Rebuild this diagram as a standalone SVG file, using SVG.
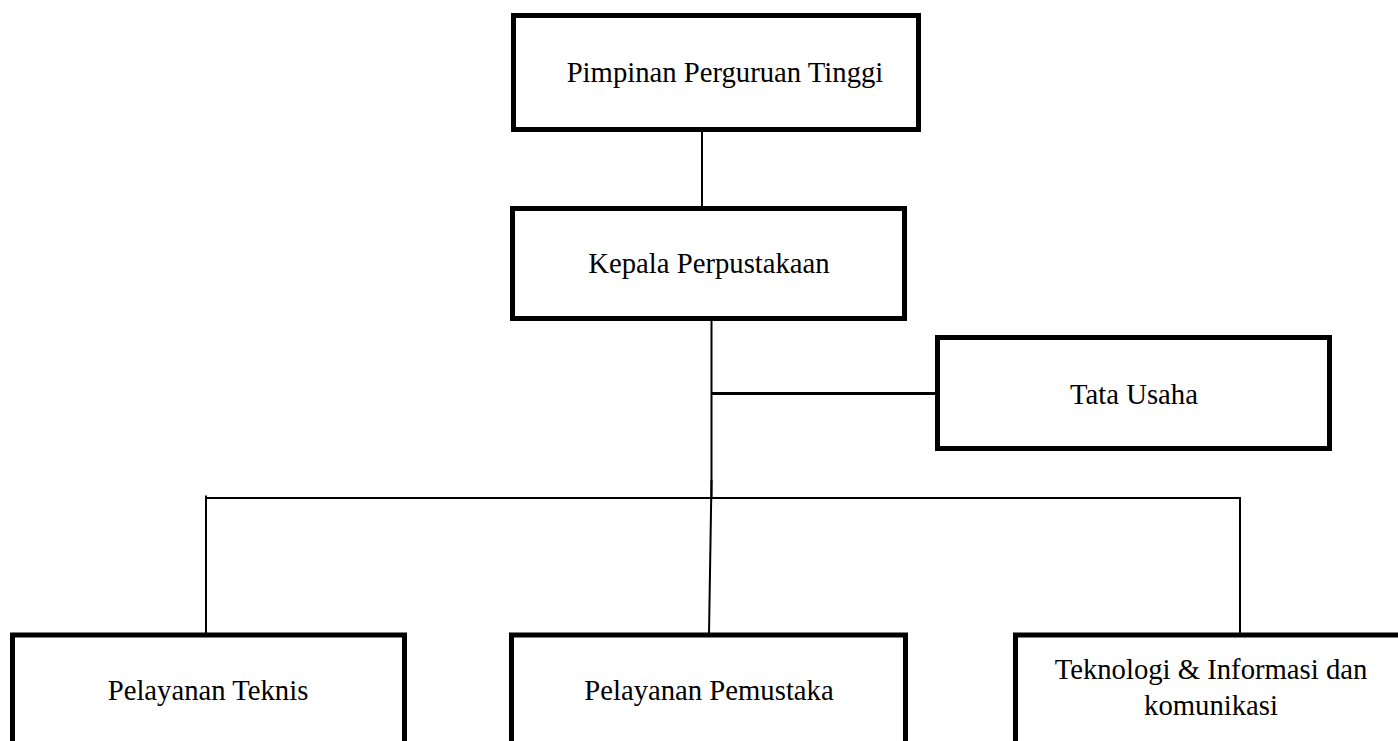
<svg xmlns="http://www.w3.org/2000/svg" width="1398" height="741" viewBox="0 0 1398 741">
<style>
.box{fill:#fff;stroke:#000;stroke-width:5}
.lbl{font-family:"Liberation Serif","Times New Roman",serif;font-size:28.7px;fill:#000;text-anchor:middle}
.con{fill:none;stroke:#000;stroke-width:2}
</style>
<rect width="1398" height="741" fill="#fff"/>
<g id="connectors">
<line class="con" x1="702" y1="132" x2="702" y2="213"/>
<line class="con" x1="711.5" y1="320" x2="711.5" y2="498"/>
<line class="con" x1="711.5" y1="393.5" x2="937" y2="393.5" style="stroke-width:3"/>
<line class="con" x1="205" y1="498" x2="1240" y2="498"/>
<line class="con" x1="206" y1="495.5" x2="206" y2="634"/>
<line class="con" x1="1240" y1="497" x2="1240" y2="634"/>
<line class="con" x1="711.5" y1="480" x2="709" y2="634"/>
</g>
<g id="pimpinan">
<rect class="box" x="513.5" y="15.5" width="405" height="114"/>
<text class="lbl" x="725" y="82">Pimpinan Perguruan Tinggi</text>
</g>
<g id="kepala">
<rect class="box" x="512.5" y="208.5" width="392" height="110"/>
<text class="lbl" x="709" y="273">Kepala Perpustakaan</text>
</g>
<g id="tata-usaha">
<rect class="box" x="937.5" y="337.5" width="392" height="111"/>
<text class="lbl" x="1134" y="404">Tata Usaha</text>
</g>
<g id="pelayanan-teknis">
<rect class="box" x="12.5" y="635" width="392" height="140"/>
<text class="lbl" x="208" y="700">Pelayanan Teknis</text>
</g>
<g id="pelayanan-pemustaka">
<rect class="box" x="511.5" y="635" width="394" height="140"/>
<text class="lbl" x="709" y="700">Pelayanan Pemustaka</text>
</g>
<g id="teknologi">
<rect class="box" x="1015.5" y="635" width="400" height="140"/>
<text class="lbl" x="1211" y="679">Teknologi &amp; Informasi dan</text>
<text class="lbl" x="1211" y="715">komunikasi</text>
</g>
</svg>
